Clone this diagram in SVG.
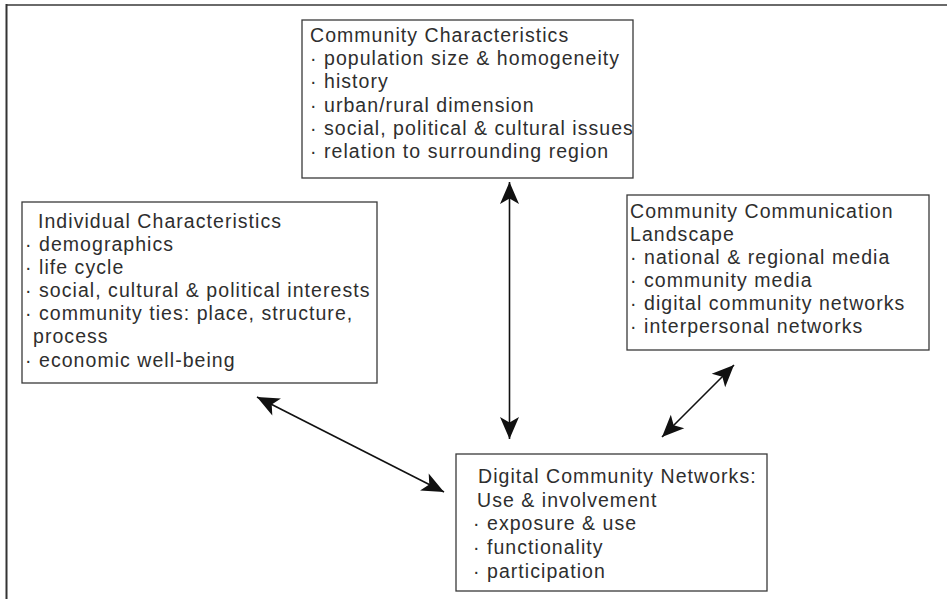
<svg xmlns="http://www.w3.org/2000/svg" width="947" height="599" viewBox="0 0 947 599">
<style>
  .box { fill: #fff; stroke: #3a3a3a; stroke-width: 1.3; }
  .t { font-family: "Liberation Sans", Arial, sans-serif; font-size: 19.5px; letter-spacing: 1.05px; fill: #2e2e2e; }
  .conn { stroke: #111; stroke-width: 1.6; fill: none; marker-start: url(#ah); marker-end: url(#ah); }
</style>
<defs>
  <marker id="ah" viewBox="-24 -11 25 22" refX="0" refY="0" markerWidth="25" markerHeight="22" markerUnits="userSpaceOnUse" orient="auto-start-reverse">
    <path d="M0,0 L-22,-9.5 L-16.5,0 L-22,9.5 Z" fill="#111"/>
  </marker>
</defs>
<rect width="947" height="599" fill="#fff"/>
<g id="frame">
  <line x1="6" y1="5" x2="947" y2="5" stroke="#6a6a6a" stroke-width="2"/>
  <line x1="6.5" y1="4" x2="6.5" y2="599" stroke="#333" stroke-width="2"/>
</g>
<g id="connectors">
  <line class="conn" x1="509.5" y1="182" x2="509.5" y2="439"/>
  <line class="conn" x1="257" y1="397" x2="444" y2="492"/>
  <line class="conn" x1="734" y1="365" x2="662" y2="437"/>
</g>
<g id="community-characteristics">
  <rect class="box" x="302" y="20" width="331" height="158"/>
  <text class="t" x="310" y="42">Community Characteristics</text>
  <text class="t" x="310" y="65">· population size &amp; homogeneity</text>
  <text class="t" x="310" y="88">· history</text>
  <text class="t" x="310" y="112">· urban/rural dimension</text>
  <text class="t" x="310" y="135">· social, political &amp; cultural issues</text>
  <text class="t" x="310" y="158">· relation to surrounding region</text>
</g>
<g id="individual-characteristics">
  <rect class="box" x="22" y="202" width="355" height="181"/>
  <text class="t" x="38" y="228">Individual Characteristics</text>
  <text class="t" x="25" y="251">· demographics</text>
  <text class="t" x="25" y="274">· life cycle</text>
  <text class="t" x="25" y="297">· social, cultural &amp; political interests</text>
  <text class="t" x="25" y="320">· community ties: place, structure,</text>
  <text class="t" x="33" y="343">process</text>
  <text class="t" x="25" y="367">· economic well-being</text>
</g>
<g id="community-communication-landscape">
  <rect class="box" x="627" y="195" width="302" height="155"/>
  <text class="t" x="630" y="218">Community Communication</text>
  <text class="t" x="630" y="241">Landscape</text>
  <text class="t" x="630" y="264">· national &amp; regional media</text>
  <text class="t" x="630" y="287">· community media</text>
  <text class="t" x="630" y="310">· digital community networks</text>
  <text class="t" x="630" y="333">· interpersonal networks</text>
</g>
<g id="digital-community-networks">
  <rect class="box" x="456" y="454" width="311" height="137"/>
  <text class="t" x="478" y="483">Digital Community Networks:</text>
  <text class="t" x="477" y="507">Use &amp; involvement</text>
  <text class="t" x="473" y="530">· exposure &amp; use</text>
  <text class="t" x="473" y="554">· functionality</text>
  <text class="t" x="473" y="578">· participation</text>
</g>
</svg>
